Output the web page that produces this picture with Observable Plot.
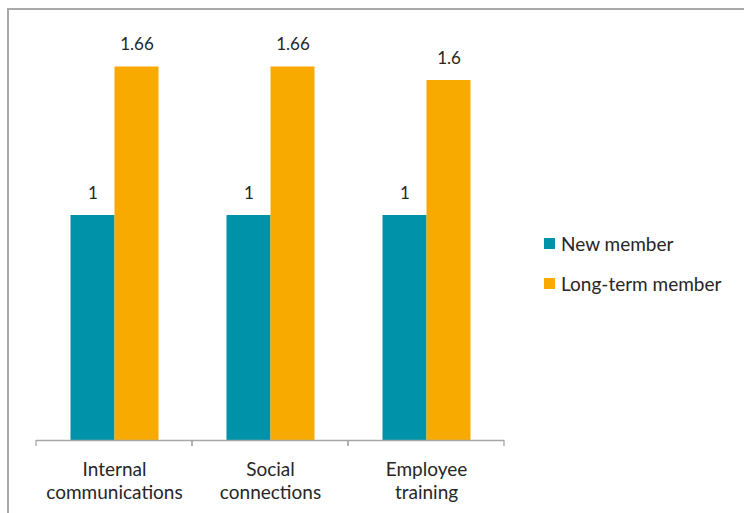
<!DOCTYPE html>
<html>
<head>
<meta charset="utf-8">
<script src="https://cdn.jsdelivr.net/npm/d3@7"></script>
<script src="https://cdn.jsdelivr.net/npm/@observablehq/plot@0.6"></script>
<style>
  html, body { margin: 0; padding: 0; background: #fff; }
  #wrap { position: relative; width: 744px; height: 513px; overflow: hidden; font-family: Lato, "Open Sans", sans-serif; }
  #border { position: absolute; left: 7px; top: 8px; width: 800px; height: 600px; border: 2px solid #a9a9a9; box-sizing: border-box; }
  #chart { position: absolute; left: 0; top: 0; }
  #legend { position: absolute; left: 544px; top: 233px; }
  .lg-swatch { display: flex; align-items: center; height: 20px; margin-bottom: 20px; font-size: 19px; color: #262626; font-family: Lato, "Open Sans", sans-serif; }
  .lg-swatch svg { margin-right: 6px; }
</style>
</head>
<body>
<div id="wrap">
  <div id="border"></div>
  <div id="chart"></div>
  <div id="legend"></div>
</div>
<script>
const categories = ["Internal communications", "Social connections", "Employee training"];
const categoryLabels = ["Internal\ncommunications", "Social\nconnections", "Employee\ntraining"];
const series = ["New member", "Long-term member"];
const newMember = [1, 1, 1];
const longTermMember = [1.66, 1.66, 1.6];
const colors = ["#0092a8", "#f9aa00"];

const data = [];
categories.forEach((c, i) => {
  data.push({category: c, series: series[0], value: newMember[i]});
  data.push({category: c, series: series[1], value: longTermMember[i]});
});
const labelOf = new Map(categories.map((c, i) => [c, categoryLabels[i]]));

// category separator ticks at the edges of each facet band
const separators = (index, scales) => {
  const [r0, r1] = scales.x.range();
  const y0 = scales.y(0);
  const g = d3.create("svg:g");
  g.selectAll("line").data([r0, r1]).join("line")
    .attr("x1", d => d).attr("x2", d => d)
    .attr("y1", y0).attr("y2", y0 + 6)
    .attr("stroke", "#a6a6a6").attr("stroke-width", 1.3);
  return g.node();
};

const plot = Plot.plot({
  width: 744,
  height: 513,
  marginTop: 35,
  marginBottom: 73,
  marginLeft: 34.5,
  marginRight: 239,
  style: {fontFamily: "Lato, 'Open Sans', sans-serif", background: "transparent", overflow: "visible"},
  fx: {domain: categories, padding: 0, label: null},
  x: {domain: series, paddingInner: 0, paddingOuter: 0.76, axis: null},
  y: {domain: [0, 1.8], axis: null},
  color: {domain: series, range: colors},
  marks: [
    Plot.barY(data, {fx: "category", x: "series", y: "value", fill: "series"}),
    Plot.text(data, {fx: "category", x: "series", y: "value", text: d => String(d.value), dy: -22, lineAnchor: "middle", fontSize: 17, fill: "#262626"}),
    Plot.ruleY([0], {stroke: "#a6a6a6", strokeWidth: 1.3}),
    Plot.axisFx({anchor: "bottom", tickSize: 0, tickPadding: 19, fontSize: 19, lineHeight: 1.21, fill: "#262626", tickFormat: d => labelOf.get(d), label: null}),
    separators
  ]
});
document.getElementById("chart").appendChild(plot);

// legend
const legend = d3.select("#legend");
series.forEach((s, i) => {
  const row = legend.append("div").attr("class", "lg-swatch");
  row.append("svg").attr("width", 11).attr("height", 11)
    .append("rect").attr("width", 11).attr("height", 11).attr("fill", colors[i]);
  row.append("span").text(s);
});
</script>
</body>
</html>
